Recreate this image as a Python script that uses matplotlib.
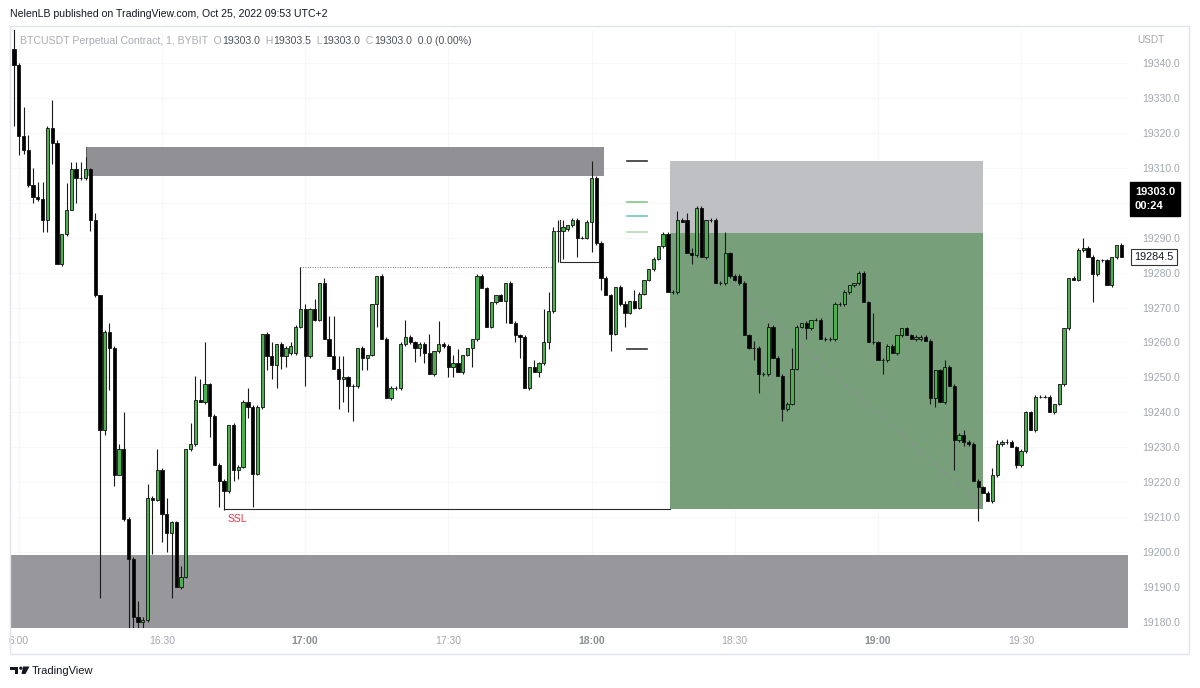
import numpy as np
import matplotlib
matplotlib.use("Agg")
import matplotlib.pyplot as plt
from matplotlib.patches import Rectangle, Circle, Polygon

plt.rcParams['font.family'] = ['Liberation Sans', 'DejaVu Sans']

# 1-minute BTCUSDT candles, first one at 15:59
opens = [19344, 19339.5, 19319, 19315, 19305, 19301.5, 19301, 19295, 19321.5, 19317,
         19282.5, 19291, 19298, 19309.5, 19307, 19307, 19309.5, 19295, 19273.5, 19235,
         19263, 19258.5, 19222, 19229.5, 19209.5, 19198, 19181.5, 19180, 19180.5, 19215.5,
         19215, 19223.5, 19211, 19205.5, 19208.5, 19190, 19193, 19229.5, 19231, 19243.5,
         19243, 19248, 19239, 19225, 19220.5, 19217.5, 19236.5, 19223.5, 19224.5, 19243,
         19241.5, 19222.5, 19241.5, 19262.5, 19256, 19253.5, 19259.5, 19256, 19257, 19257,
         19264.5, 19269.5, 19256, 19269.5, 19266.5, 19277, 19261, 19256, 19252.5, 19249.5,
         19250, 19247.5, 19247.5, 19258.5, 19255.5, 19256.5, 19271, 19279, 19261, 19244,
         19247, 19247, 19259.5, 19261.5, 19260, 19258.5, 19259.5, 19257, 19251, 19257.5,
         19259.5, 19259, 19253, 19254, 19251.5, 19256.5, 19258.5, 19261, 19279, 19275.5,
         19264.5, 19271.5, 19273.5, 19272, 19277, 19265.5, 19262, 19261.5, 19247, 19253,
         19251.5, 19254, 19260, 19269, 19292, 19292, 19292.5, 19293.5, 19295, 19290,
         19290, 19294.5, 19307, 19288.5, 19278.5, 19273.5, 19262.5, 19276, 19271, 19268.5,
         19272, 19270, 19274, 19278, 19281, 19284, 19287.5, 19291, 19274.5, 19274.5,
         19295, 19295, 19285.5, 19285, 19298.5, 19284.5, 19295, 19295, 19277, 19277,
         19285.5, 19279, 19279, 19277, 19262, 19258.5, 19258.5, 19251, 19251, 19264.5,
         19255.5, 19250.5, 19241, 19242.5, 19252.5, 19264.5, 19265.5, 19264, 19266.5, 19266.5,
         19261, 19261, 19261, 19271, 19271, 19274.5, 19276.5, 19277, 19280, 19271.5,
         19260, 19260, 19255, 19255, 19259, 19257, 19262, 19264, 19262, 19261,
         19261, 19261.5, 19260.5, 19244, 19252, 19243, 19253, 19247.5, 19232, 19233.5,
         19231.5, 19231, 19220.5, 19218.5, 19217, 19214.5, 19222, 19231, 19231.5, 19231.5,
         19230, 19225, 19229, 19240, 19235, 19244.5, 19244.5, 19244.5, 19240, 19242.5,
         19248, 19264, 19278.5, 19278, 19286.5, 19287, 19284.5, 19279.5, 19283.5, 19283.5,
         19276.5, 19284.5, 19288]
highs = [19352, 19340, 19327.5, 19319.5, 19310, 19306, 19306, 19322, 19329.5, 19318,
         19291, 19305.5, 19311.5, 19311.5, 19311.5, 19313, 19310, 19297, 19273.5, 19263.5,
         19265.5, 19259, 19231, 19240, 19210, 19198.5, 19186, 19181.5, 19219.5, 19216,
         19229.5, 19224, 19215.5, 19209, 19209, 19196, 19229.5, 19237, 19250.5, 19249.5,
         19260, 19248.5, 19239.5, 19225.5, 19221, 19236.5, 19237, 19225, 19243.5, 19247,
         19242, 19242, 19262.5, 19263, 19260, 19259.5, 19260, 19259, 19260, 19265,
         19281.5, 19271, 19270, 19272.5, 19277, 19278.5, 19267.5, 19267.5, 19256, 19256,
         19250.5, 19248, 19258.5, 19259, 19256.5, 19271, 19279, 19279.5, 19261.5, 19247.5,
         19247.5, 19260, 19266.5, 19262, 19260.5, 19260, 19260, 19262.5, 19257.5, 19266,
         19260, 19259.5, 19256.5, 19258, 19256.5, 19258.5, 19261, 19279.5, 19279.5, 19276,
         19271.5, 19273.5, 19274, 19277, 19277.5, 19266, 19262.5, 19262, 19253, 19255,
         19254.5, 19269.5, 19274.5, 19293, 19295, 19295, 19293.5, 19295.5, 19295.5, 19290.5,
         19295, 19312, 19307.5, 19289, 19279, 19274, 19276, 19276.5, 19272, 19272,
         19275, 19274.5, 19278, 19281, 19284.5, 19287.5, 19291.5, 19291.5, 19275, 19297.5,
         19295.5, 19297, 19287, 19299, 19299, 19295, 19295.5, 19295.5, 19277.5, 19291.5,
         19286, 19279.5, 19279.5, 19277.5, 19262.5, 19260.5, 19259, 19251.5, 19265.5, 19265,
         19256, 19251, 19243, 19258.5, 19265, 19265.5, 19266, 19266.5, 19267, 19267,
         19261.5, 19261.5, 19271.5, 19271.5, 19275, 19276.5, 19277, 19280.5, 19280.5, 19272,
         19268.5, 19260.5, 19255.5, 19259.5, 19259.5, 19262, 19264, 19264.5, 19262.5, 19262,
         19262, 19262, 19261, 19252, 19252.5, 19255, 19253.5, 19248, 19234, 19235,
         19232, 19231.5, 19221, 19219, 19217.5, 19224, 19232, 19232, 19232.5, 19232,
         19230.5, 19229.5, 19240.5, 19240.5, 19245, 19245, 19245, 19245, 19242.5, 19248,
         19264, 19278.5, 19279, 19287, 19290, 19287.5, 19285, 19284, 19284, 19284,
         19284.5, 19288, 19288.5]
lows = [19322, 19313.5, 19314, 19304.5, 19300, 19300.5, 19291.5, 19291.5, 19311, 19282.5,
        19282, 19290.5, 19298, 19300, 19306.5, 19306.5, 19292, 19273, 19187, 19233.5,
        19246.5, 19219, 19222, 19209, 19178, 19178, 19178, 19178, 19180, 19199.5,
        19214.5, 19203, 19200, 19187, 19190, 19189.5, 19192.5, 19229, 19230.5, 19243,
        19242.5, 19233, 19225, 19213, 19212, 19217, 19220.5, 19221, 19224, 19238.5,
        19213, 19222, 19241, 19252, 19249.5, 19247, 19252.5, 19253, 19256.5, 19256.5,
        19264, 19247.5, 19255.5, 19266, 19266, 19261, 19256, 19252.5, 19241, 19243,
        19240, 19237.5, 19247, 19252, 19252, 19256, 19264.5, 19261, 19244, 19243.5,
        19246.5, 19246.5, 19259, 19259.5, 19254.5, 19256, 19254, 19251, 19250.5, 19257,
        19258.5, 19250, 19250, 19251.5, 19251, 19256, 19253, 19260.5, 19275.5, 19264.5,
        19264, 19271, 19272, 19265.5, 19265.5, 19260, 19255.5, 19247, 19246.5, 19251.5,
        19250, 19253.5, 19258, 19268.5, 19283, 19284, 19292, 19293, 19284.5, 19289.5,
        19289.5, 19286, 19288, 19275, 19273.5, 19257.5, 19262, 19270.5, 19264.5, 19268,
        19269.5, 19269.5, 19273.5, 19277.5, 19280.5, 19283.5, 19287, 19274.5, 19274, 19274,
        19294.5, 19285.5, 19282.5, 19284.5, 19284.5, 19284, 19294.5, 19277, 19276.5, 19276.5,
        19278.5, 19277.5, 19276.5, 19262, 19258, 19255, 19245.5, 19250.5, 19250.5, 19255.5,
        19250.5, 19237.5, 19240.5, 19242, 19252, 19264, 19261, 19263.5, 19266, 19261,
        19260.5, 19260.5, 19260.5, 19270.5, 19270.5, 19274, 19276, 19276.5, 19271.5, 19260,
        19259.5, 19255, 19251, 19254.5, 19257, 19256.5, 19261.5, 19262, 19261, 19260.5,
        19260.5, 19260.5, 19242.5, 19241.5, 19243, 19242.5, 19247.5, 19223.5, 19231.5, 19230.5,
        19230.5, 19220.5, 19209, 19217, 19214.5, 19214, 19221.5, 19230.5, 19231, 19230,
        19224, 19224.5, 19228.5, 19235, 19234.5, 19244, 19244, 19240, 19239.5, 19242,
        19247.5, 19263.5, 19278, 19277.5, 19286, 19284.5, 19271.5, 19279, 19283, 19276.5,
        19276, 19284, 19284.5]
closes = [19339.5, 19319, 19315, 19305, 19301.5, 19301, 19295, 19321.5, 19317, 19282.5,
          19291, 19298, 19309.5, 19307, 19307, 19309.5, 19295, 19273.5, 19235, 19263,
          19258.5, 19222, 19229.5, 19209.5, 19198, 19181.5, 19180, 19180.5, 19215.5, 19215,
          19223.5, 19211, 19205.5, 19208.5, 19190, 19193, 19229.5, 19231, 19243.5, 19243,
          19248, 19239, 19225, 19220.5, 19217.5, 19236.5, 19223.5, 19224.5, 19243, 19241.5,
          19222.5, 19241.5, 19262.5, 19256, 19253.5, 19259.5, 19256, 19258.5, 19259, 19264.5,
          19269.5, 19256, 19269.5, 19266.5, 19277, 19261, 19256, 19252.5, 19249.5, 19250,
          19247.5, 19247.5, 19258.5, 19255.5, 19256.5, 19271, 19279, 19261, 19244, 19247,
          19247, 19259.5, 19261.5, 19260, 19258.5, 19259.5, 19257, 19251, 19257.5, 19259.5,
          19259, 19253, 19254, 19251.5, 19256.5, 19258.5, 19261, 19279, 19275.5, 19264.5,
          19271.5, 19273.5, 19272, 19277, 19265.5, 19262, 19261.5, 19247, 19253, 19251.5,
          19254, 19260, 19269, 19292, 19292, 19293, 19293.5, 19295, 19290, 19290,
          19294.5, 19307, 19288.5, 19278.5, 19273.5, 19262.5, 19276, 19271, 19268.5, 19272,
          19270, 19274, 19278, 19281, 19284, 19287.5, 19291, 19274.5, 19274.5, 19295,
          19294.5, 19285.5, 19285, 19298.5, 19284.5, 19295, 19295, 19277, 19277, 19285.5,
          19279, 19278, 19277, 19262, 19258.5, 19258.5, 19251, 19251, 19264.5, 19255.5,
          19250.5, 19241, 19242.5, 19252.5, 19264.5, 19265.5, 19264, 19266.5, 19266.5, 19261,
          19261, 19261, 19271, 19271, 19274.5, 19276.5, 19277, 19280, 19271.5, 19260,
          19260, 19255, 19255, 19259, 19257, 19262, 19264, 19262, 19261, 19261.5,
          19261.5, 19260.5, 19244, 19252, 19243, 19253, 19247.5, 19232, 19233.5, 19231.5,
          19231, 19220.5, 19218.5, 19217, 19214.5, 19222, 19231, 19231.5, 19231.5, 19230,
          19225, 19229, 19240, 19235, 19244.5, 19244.5, 19244.5, 19240, 19242.5, 19248,
          19264, 19278.5, 19278, 19286.5, 19287, 19284.5, 19279.5, 19283.5, 19283.5, 19276.5,
          19284.5, 19288, 19284.5]

first_minute = -1  # minutes after 16:00 of the first candle
time_ticks = [0, 30, 60, 90, 120, 150, 180, 210]
time_labels = ["6:00", "16:30", "17:00", "17:30", "18:00", "18:30", "19:00", "19:30"]
bold_ticks = ["17:00", "18:00", "19:00"]
price_ticks = list(range(19180, 19341, 10))

# drawings (minutes after 16:00, prices)
supply_zone = (14, 122.7, 19307.7, 19316.0)
demand_zone_top = 19199.2
ssl_level, ssl_from, ssl_to = 19212.3, 43, 136.4
range_high, range_from, range_to = 19281.5, 59, 112
bracket = (113.4, 122.4, 19283.0, 19295.0)
fib_lines = [(19312.0, '#333333'), (19300.2, '#81c784'), (19296.2, '#6cc9bd'),
             (19291.6, '#b3dcb3'), (19258.0, '#333333')]
fib_from, fib_to = 127.5, 131.7
pos_from, pos_to = 136.4, 202.1
pos_stop, pos_entry, pos_target = 19312.0, 19291.3, 19212.4
path_start, path_end = (138.5, 19290.0), (202.0, 19213.0)
last_price = 19303.0

W, H = 1200, 688
fig = plt.figure(figsize=(W / 100, H / 100), dpi=100)
fig.patch.set_facecolor('white')
ax = fig.add_axes([10 / W, 1 - 628 / H, 1118 / W, 598 / H])
ax.set_facecolor('white')

o = np.array(opens); h = np.array(highs); l = np.array(lows); c = np.array(closes)
t = first_minute + np.arange(len(o))
up = c > o

ax.set_xlim(-1.84, 232.4)
ax.set_ylim(19178.3, 19349.4)

for tk in time_ticks:
    ax.axvline(tk, color='#f6f7f9', lw=0.8, zorder=0)
for pk in price_ticks:
    ax.axhline(pk, color='#f6f7f9', lw=0.8, zorder=0)

# zones
x0, x1, y0, y1 = supply_zone
ax.add_patch(Rectangle((x0, y0), x1 - x0, y1 - y0, fc='#909095', ec='none', zorder=1))
ax.axvline(x0, ymin=(y0 - 19178.3) / 171.1, ymax=(y1 - 19178.3) / 171.1, color='#555', lw=0.6, zorder=1)
ax.add_patch(Rectangle((-5, 19170), 237.4, demand_zone_top - 19170, fc='#97979c', ec='none', zorder=1))

# short position tool
ax.add_patch(Rectangle((pos_from, pos_entry), pos_to - pos_from, pos_stop - pos_entry,
                       fc='#bfc0c4', ec='none', zorder=1))
ax.add_patch(Rectangle((pos_from, pos_target), pos_to - pos_from, pos_entry - pos_target,
                       fc='#779f7a', ec='none', zorder=1))
ax.plot([path_start[0], path_end[0]], [path_start[1], path_end[1]],
        color='#8a8f94', lw=0.9, ls=(0, (4, 4)), zorder=2)

# lines
ax.plot([ssl_from, ssl_to], [ssl_level, ssl_level], color='#2a2a2a', lw=0.8, zorder=2)
ax.text(ssl_from + 2.8, ssl_level - 1.5, "SSL", color='#f23645', fontsize=7.5,
        ha='center', va='top', zorder=3)
ax.plot([range_from, range_to], [range_high, range_high], color='#777', lw=0.7,
        ls=(0, (1, 1.5)), zorder=2)
bx0, bx1, by0, by1 = bracket
ax.plot([bx0, bx0, bx1], [by1, by0, by0], color='#2a2a2a', lw=0.8, zorder=2)
for lvl, col in fib_lines:
    ax.plot([fib_from, fib_to], [lvl, lvl], color=col, lw=1.2, zorder=2)

# candles
ax.vlines(t, l, h, color='#1a1a1a', lw=0.8, zorder=3)
ax.bar(t, np.abs(c - o), bottom=np.minimum(o, c), width=0.68,
       color=np.where(up, '#4caf50', '#000000'), edgecolor='#111111', linewidth=0.6, zorder=4)

# axes styling
for s in ax.spines.values():
    s.set_visible(False)
ax.yaxis.tick_right()
ax.set_yticks(price_ticks)
# the live-price tag covers the tick nearest to it
ax.set_yticklabels(["" if abs(p - last_price) < 5 else f"{p:.1f}" for p in price_ticks])
ax.tick_params(axis='y', length=0, pad=10, labelsize=7.5, labelcolor='#a3a6af')
ax.set_xticks(time_ticks)
ax.set_xticklabels(time_labels)
ax.tick_params(axis='x', length=0, pad=6, labelsize=7.5, labelcolor='#a3a6af')
for lbl in ax.get_xticklabels():
    if lbl.get_text() in bold_ticks:
        lbl.set_fontweight('bold')
        lbl.set_color('#8a8d96')

# price labels on scale
ax.annotate(f"{last_price:.1f}\n00:24", xy=(1, last_price), xycoords=ax.get_yaxis_transform(),
            xytext=(5, 3.5), textcoords='offset points', ha='left', va='top',
            color='white', fontsize=8, fontweight='bold', linespacing=1.5,
            bbox=dict(boxstyle='square,pad=0.45', fc='black', ec='black'),
            annotation_clip=False, zorder=10)
ax.annotate(f"{closes[-1]:.1f}", xy=(1, closes[-1]), xycoords=ax.get_yaxis_transform(),
            xytext=(4.5, 0), textcoords='offset points', ha='left', va='center',
            color='#131722', fontsize=7.8,
            bbox=dict(boxstyle='square,pad=0.3', fc='white', ec='#333', lw=0.8),
            annotation_clip=False, zorder=10)

# overlay in pixel coords
ov = fig.add_axes([0, 0, 1, 1], zorder=5)
ov.set_xlim(0, W); ov.set_ylim(H, 0); ov.axis('off'); ov.patch.set_visible(False)
ov.add_patch(Rectangle((9.5, 26), 1179, 628, fc='none', ec='#e0e3eb', lw=1))
ov.text(10, 14, "NelenLB published on TradingView.com, Oct 25, 2022 09:53 UTC+2",
        fontsize=7.6, color='#131722', va='center', ha='left')
ov.text(1137, 40, "USDT", fontsize=7.2, color='#a3a6af', va='center', ha='left')

light, dark = '#a9acb5', '#50535e'
parts = [("BTCUSDT Perpetual Contract, 1, BYBIT  O", light), ("19303.0", dark),
         ("  H", light), ("19303.5", dark), ("  L", light), ("19303.0", dark),
         ("  C", light), ("19303.0", dark), ("  0.0 (0.00%)", dark)]
prev = ov.text(20, 41, parts[0][0], fontsize=7.6, color=parts[0][1], va='center', ha='left')
for s, col in parts[1:]:
    prev = ov.annotate(s, xy=(1, 0), xycoords=prev, va='bottom', ha='left',
                       fontsize=7.6, color=col)

# TradingView logo
ov.add_patch(Rectangle((10, 666.5), 8, 3, fc='#131722', ec='none'))
ov.add_patch(Rectangle((14.5, 666.5), 3.5, 7.5, fc='#131722', ec='none'))
ov.add_patch(Circle((20.8, 668.2), 1.6, fc='#131722', ec='none'))
ov.add_patch(Polygon([(23, 666.5), (29.5, 666.5), (25.5, 674), (21.5, 674)], fc='#131722', ec='none'))
ov.text(32, 670.5, "TradingView", fontsize=8, color='#131722', va='center', ha='left')

fig.savefig("out.png", dpi=100)
